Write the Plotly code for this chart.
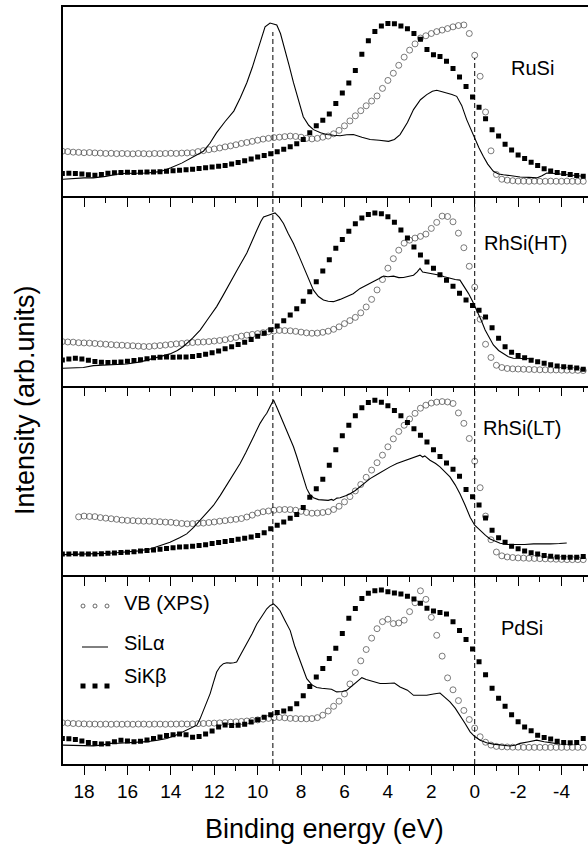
import numpy as np
import plotly.graph_objects as go

# ---------------- data ----------------
PANELS = ["RuSi", "RhSi(HT)", "RhSi(LT)", "PdSi"]
TICK_VALS = [18, 16, 14, 12, 10, 8, 6, 4, 2, 0, -2, -4]
TICK_TEXT = ["18", "16", "14", "12", "10", "8", "6", "4", "2", "0", "-2", "-4"]
MINOR_TICKS = [19, 17, 15, 13, 11, 9, 7, 5, 3, 1, -1, -3, -5]
REF_LINES = [9.3, 0.0]
X_RANGE = [18.97, -5.22]
LEGEND_NAMES = ["VB (XPS)", "SiL\u03b1", "SiK\u03b2"]

# VB (XPS) – open circles, energy grid start / step
VB_STEP = 0.25
VB_START = [19.0, 19.0, 18.25, 19.0]
VB_RUSI = [0.238, 0.236, 0.233, 0.232, 0.230, 0.231, 0.229, 0.228, 0.226,
           0.227, 0.225, 0.226, 0.225, 0.224, 0.226, 0.225, 0.224,
           0.226, 0.225, 0.226, 0.227, 0.226, 0.228, 0.229, 0.230,
           0.236, 0.241, 0.246, 0.250, 0.255, 0.261, 0.266, 0.272,
           0.279, 0.284, 0.290, 0.296, 0.302, 0.306, 0.310, 0.312,
           0.315, 0.318, 0.316, 0.312, 0.306, 0.303, 0.306, 0.312,
           0.318, 0.330, 0.348, 0.372, 0.398, 0.425, 0.452, 0.478,
           0.503, 0.530, 0.570, 0.612, 0.650, 0.692, 0.735, 0.772,
           0.805, 0.836, 0.848, 0.860, 0.870, 0.878, 0.886, 0.895,
           0.902, 0.905, 0.860, 0.745, 0.634, 0.445, 0.240, 0.115,
           0.090, 0.085, 0.082, 0.080, 0.080, 0.079, 0.080, 0.079,
           0.079, 0.080, 0.079, 0.079, 0.080, 0.079, 0.079, 0.079]
VB_RHSI_HT = [0.232, 0.230, 0.229, 0.226, 0.225, 0.224, 0.222, 0.220, 0.218,
              0.216, 0.214, 0.213, 0.211, 0.210, 0.208, 0.206, 0.206,
              0.209, 0.211, 0.214, 0.217, 0.220, 0.222, 0.225, 0.227,
              0.229, 0.230, 0.232, 0.235, 0.238, 0.242, 0.248, 0.254,
              0.261, 0.266, 0.270, 0.274, 0.279, 0.284, 0.288, 0.291,
              0.290, 0.289, 0.286, 0.282, 0.278, 0.276, 0.277, 0.281,
              0.287, 0.297, 0.310, 0.327, 0.343, 0.360, 0.384, 0.415,
              0.455, 0.505, 0.560, 0.620, 0.670, 0.715, 0.752, 0.768,
              0.779, 0.788, 0.800, 0.830, 0.862, 0.895, 0.893, 0.865,
              0.805, 0.728, 0.630, 0.520, 0.350, 0.218, 0.148, 0.107,
              0.095, 0.090, 0.088, 0.087, 0.086, 0.085, 0.084, 0.083,
              0.083, 0.082, 0.082, 0.081, 0.081, 0.080, 0.080, 0.079]
VB_RHSI_LT = [0.306, 0.310, 0.308, 0.307, 0.302, 0.299,
              0.296, 0.293, 0.289, 0.287, 0.286, 0.284, 0.283, 0.283,
              0.281, 0.280, 0.278, 0.277, 0.274, 0.271, 0.269, 0.270,
              0.272, 0.273, 0.276, 0.279, 0.283, 0.286, 0.290, 0.293,
              0.297, 0.305, 0.315, 0.326, 0.333, 0.337, 0.341, 0.344,
              0.345, 0.344, 0.341, 0.335, 0.329, 0.325, 0.326, 0.329,
              0.333, 0.345, 0.362, 0.385, 0.413, 0.443, 0.477, 0.515,
              0.553, 0.592, 0.632, 0.676, 0.718, 0.757, 0.790, 0.823,
              0.853, 0.880, 0.896, 0.907, 0.912, 0.915, 0.913, 0.905,
              0.855, 0.800, 0.720, 0.600, 0.460, 0.310, 0.185, 0.120,
              0.100, 0.094, 0.091, 0.089, 0.088, 0.087, 0.086, 0.085,
              0.084, 0.083, 0.082, 0.081, 0.080, 0.080, 0.080, 0.080]
VB_PDSI = [0.218, 0.216, 0.214, 0.213, 0.212, 0.211, 0.211, 0.210, 0.211,
           0.210, 0.211, 0.210, 0.211, 0.210, 0.211, 0.211, 0.210,
           0.211, 0.211, 0.210, 0.211, 0.211, 0.212, 0.211, 0.212,
           0.213, 0.214, 0.215, 0.216, 0.217, 0.219, 0.221, 0.223,
           0.225, 0.227, 0.230, 0.233, 0.237, 0.241, 0.245, 0.246,
           0.244, 0.241, 0.240, 0.239, 0.239, 0.240, 0.245, 0.258,
           0.280, 0.305, 0.332, 0.370, 0.423, 0.483, 0.545, 0.605,
           0.665, 0.715, 0.752, 0.765, 0.742, 0.745, 0.760, 0.805,
           0.852, 0.915, 0.870, 0.775, 0.680, 0.570, 0.455, 0.392,
           0.335, 0.283, 0.235, 0.190, 0.144, 0.115, 0.100, 0.093,
           0.091, 0.090, 0.089, 0.089, 0.088, 0.088, 0.088, 0.088,
           0.088, 0.088, 0.088, 0.088, 0.088, 0.088, 0.088, 0.088]

# SiKβ – filled squares, energy grid start / step
KB_STEP = 0.3
KB_START = 19.0
KB_RUSI = [0.120, 0.121, 0.120, 0.117, 0.113, 0.111, 0.115, 0.121, 0.124,
           0.125, 0.127, 0.126, 0.127, 0.128, 0.128, 0.130, 0.132,
           0.135, 0.138, 0.140, 0.143, 0.147, 0.150, 0.154, 0.158,
           0.163, 0.170, 0.178, 0.187, 0.197, 0.207, 0.215, 0.224,
           0.235, 0.248, 0.262, 0.278, 0.300, 0.335, 0.372, 0.402,
           0.435, 0.490, 0.545, 0.598, 0.665, 0.750, 0.822, 0.870,
           0.900, 0.913, 0.912, 0.900, 0.885, 0.860, 0.830, 0.775,
           0.748, 0.738, 0.713, 0.675, 0.630, 0.580, 0.525, 0.470,
           0.410, 0.352, 0.318, 0.275, 0.245, 0.218, 0.200, 0.180,
           0.163, 0.145, 0.133, 0.125, 0.120, 0.115, 0.109, 0.106]
KB_RHSI_HT = [0.135, 0.140, 0.144, 0.140, 0.133, 0.127, 0.123, 0.122, 0.123,
              0.124, 0.128, 0.132, 0.136, 0.141, 0.146, 0.149, 0.150,
              0.149, 0.150, 0.151, 0.153, 0.158, 0.165, 0.173, 0.182,
              0.194, 0.205, 0.216, 0.229, 0.243, 0.260, 0.276, 0.294,
              0.315, 0.342, 0.372, 0.405, 0.445, 0.495, 0.548, 0.605,
              0.665, 0.725, 0.772, 0.815, 0.855, 0.885, 0.903, 0.912,
              0.908, 0.892, 0.862, 0.822, 0.780, 0.732, 0.690, 0.652,
              0.619, 0.585, 0.556, 0.525, 0.488, 0.452, 0.423, 0.398,
              0.362, 0.305, 0.250, 0.205, 0.176, 0.158, 0.146, 0.134,
              0.125, 0.117, 0.109, 0.103, 0.099, 0.097, 0.092, 0.086]
KB_RHSI_LT = [0.110, 0.109, 0.111, 0.110, 0.109, 0.110, 0.111, 0.113, 0.115,
              0.117, 0.119, 0.122, 0.125, 0.128, 0.131, 0.135, 0.139,
              0.143, 0.146, 0.148, 0.151, 0.154, 0.159, 0.165, 0.171,
              0.176, 0.181, 0.187, 0.193, 0.200, 0.208, 0.222, 0.243,
              0.262, 0.279, 0.298, 0.318, 0.356, 0.410, 0.455, 0.505,
              0.578, 0.660, 0.735, 0.790, 0.840, 0.882, 0.910, 0.922,
              0.912, 0.893, 0.868, 0.840, 0.805, 0.772, 0.737, 0.702,
              0.660, 0.625, 0.590, 0.558, 0.520, 0.450, 0.412, 0.368,
              0.300, 0.235, 0.195, 0.172, 0.150, 0.137, 0.125, 0.116,
              0.109, 0.102, 0.098, 0.094, 0.092, 0.092, 0.093, 0.096]
KB_PDSI = [0.135, 0.133, 0.130, 0.122, 0.114, 0.108, 0.106, 0.107, 0.118,
           0.125, 0.122, 0.118, 0.120, 0.127, 0.135, 0.143, 0.150,
           0.154, 0.158, 0.155, 0.142, 0.145, 0.158, 0.175, 0.195,
           0.206, 0.204, 0.205, 0.210, 0.222, 0.234, 0.247, 0.260,
           0.272, 0.280, 0.292, 0.318, 0.360, 0.410, 0.460, 0.505,
           0.558, 0.612, 0.690, 0.770, 0.822, 0.875, 0.902, 0.916,
           0.920, 0.910, 0.903, 0.898, 0.887, 0.872, 0.850, 0.823,
           0.808, 0.800, 0.793, 0.752, 0.705, 0.658, 0.608, 0.540,
           0.472, 0.400, 0.348, 0.305, 0.260, 0.223, 0.196, 0.176,
           0.152, 0.140, 0.132, 0.120, 0.114, 0.112, 0.113, 0.135]

# SiLα – solid line, (energy, intensity) pairs
LA_RUSI = [(19.0, 0.090), (18.5, 0.094), (18.0, 0.097), (17.57, 0.097), (17.0, 0.105),
           (16.3, 0.120), (15.8, 0.122), (15.1, 0.123), (14.5, 0.130), (14.0, 0.150),
           (13.5, 0.175), (13.0, 0.205), (12.5, 0.238), (12.2, 0.280), (11.9, 0.335),
           (11.5, 0.395), (11.1, 0.450), (10.8, 0.520), (10.5, 0.600), (10.25, 0.680),
           (10.04, 0.757), (9.85, 0.830), (9.66, 0.895), (9.43, 0.915), (9.12, 0.905),
           (8.95, 0.860), (8.74, 0.775), (8.55, 0.690), (8.35, 0.600), (8.1, 0.500),
           (7.9, 0.420), (7.65, 0.375), (7.43, 0.352), (7.1, 0.335), (6.82, 0.326),
           (6.5, 0.322), (6.2, 0.320), (5.9, 0.325), (5.59, 0.326), (5.2, 0.312),
           (4.82, 0.300), (4.4, 0.296), (3.97, 0.290), (3.7, 0.300), (3.44, 0.326),
           (3.1, 0.390), (2.82, 0.458), (2.5, 0.510), (2.21, 0.537), (1.95, 0.555),
           (1.75, 0.560), (1.5, 0.552), (1.29, 0.546), (1.05, 0.538), (0.83, 0.528),
           (0.6, 0.480), (0.37, 0.405), (0.15, 0.345), (-0.02, 0.300), (-0.2, 0.255),
           (-0.4, 0.210), (-0.6, 0.170), (-0.86, 0.132), (-1.1, 0.118), (-1.32, 0.114),
           (-1.7, 0.108), (-2.09, 0.102), (-2.5, 0.100), (-2.86, 0.097), (-3.1, 0.108),
           (-3.32, 0.123), (-3.7, 0.120), (-4.24, 0.114), (-4.6, 0.110), (-4.98, 0.106)]
LA_RHSI_HT = [(19.0, 0.091), (18.5, 0.093), (18.03, 0.095), (17.57, 0.105), (17.0, 0.108),
              (16.5, 0.110), (16.03, 0.114), (15.4, 0.125), (14.8, 0.144), (14.4, 0.155),
              (14.04, 0.167), (13.7, 0.185), (13.42, 0.206), (13.0, 0.250), (12.65, 0.293),
              (12.3, 0.350), (11.89, 0.417), (11.6, 0.475), (11.27, 0.540), (10.9, 0.620),
              (10.5, 0.700), (10.25, 0.770), (10.04, 0.820), (9.85, 0.868), (9.73, 0.890),
              (9.5, 0.900), (9.35, 0.905), (9.2, 0.912), (9.0, 0.888), (8.81, 0.856),
              (8.6, 0.805), (8.35, 0.750), (8.1, 0.685), (7.89, 0.627), (7.65, 0.560),
              (7.43, 0.504), (7.2, 0.470), (6.97, 0.452), (6.75, 0.445), (6.51, 0.443),
              (6.2, 0.455), (5.89, 0.469), (5.6, 0.485), (5.28, 0.513), (4.97, 0.530),
              (4.67, 0.548), (4.4, 0.565), (4.2, 0.578), (4.0, 0.575), (3.74, 0.578),
              (3.5, 0.570), (3.28, 0.571), (3.05, 0.575), (2.82, 0.583), (2.65, 0.600),
              (2.52, 0.619), (2.4, 0.600), (2.21, 0.596), (1.9, 0.590), (1.6, 0.583),
              (1.4, 0.575), (1.14, 0.566), (0.9, 0.560), (0.68, 0.557), (0.5, 0.525),
              (0.29, 0.487), (0.1, 0.445), (-0.09, 0.400), (-0.3, 0.345), (-0.48, 0.293),
              (-0.7, 0.250), (-0.86, 0.214), (-1.1, 0.185), (-1.32, 0.167), (-1.55, 0.152),
              (-1.78, 0.144), (-2.2, 0.143), (-2.71, 0.141)]
LA_RHSI_LT = [(19.0, 0.106), (18.5, 0.107), (18.0, 0.109), (17.57, 0.110), (17.0, 0.113),
              (16.5, 0.116), (16.03, 0.119), (15.5, 0.126), (14.96, 0.136), (14.5, 0.152),
              (14.04, 0.172), (13.6, 0.195), (13.27, 0.216), (12.95, 0.250), (12.65, 0.287),
              (12.35, 0.325), (12.04, 0.366), (11.73, 0.418), (11.43, 0.473), (11.1, 0.530),
              (10.81, 0.588), (10.55, 0.645), (10.35, 0.694), (10.1, 0.750), (9.89, 0.800),
              (9.7, 0.835), (9.58, 0.853), (9.42, 0.890), (9.27, 0.924), (9.12, 0.885),
              (8.97, 0.844), (8.8, 0.800), (8.66, 0.765), (8.5, 0.720), (8.35, 0.676),
              (8.2, 0.625), (8.05, 0.570), (7.9, 0.510), (7.74, 0.455), (7.6, 0.425),
              (7.43, 0.407), (7.2, 0.397), (6.97, 0.393), (6.75, 0.393), (6.6, 0.398),
              (6.51, 0.393), (6.35, 0.405), (6.2, 0.407), (5.95, 0.418), (5.74, 0.428),
              (5.5, 0.445), (5.28, 0.464), (5.05, 0.487), (4.82, 0.508), (4.5, 0.530),
              (4.2, 0.552), (3.9, 0.570), (3.59, 0.588), (3.3, 0.600), (2.97, 0.614),
              (2.75, 0.622), (2.6, 0.628), (2.52, 0.632), (2.4, 0.622), (2.3, 0.628),
              (2.06, 0.605), (1.8, 0.588), (1.6, 0.570), (1.4, 0.548), (1.14, 0.517),
              (0.9, 0.475), (0.68, 0.428), (0.45, 0.370), (0.21, 0.304), (0.0, 0.262),
              (-0.25, 0.234), (-0.5, 0.208), (-0.71, 0.189), (-0.95, 0.175), (-1.17, 0.166),
              (-1.5, 0.160), (-1.94, 0.158), (-2.3, 0.160), (-2.71, 0.163), (-3.1, 0.162),
              (-3.48, 0.163), (-3.9, 0.165), (-4.24, 0.168)]
LA_PDSI = [(19.0, 0.100), (18.5, 0.099), (18.0, 0.097), (17.57, 0.096), (17.2, 0.100),
           (16.8, 0.109), (16.4, 0.110), (16.03, 0.112), (15.6, 0.114), (15.1, 0.118),
           (14.6, 0.126), (14.19, 0.135), (13.8, 0.150), (13.42, 0.170), (13.1, 0.188),
           (12.8, 0.205), (12.65, 0.240), (12.5, 0.284), (12.35, 0.330), (12.19, 0.372),
           (12.04, 0.430), (11.89, 0.486), (11.73, 0.515), (11.58, 0.530), (11.42, 0.535),
           (11.27, 0.533), (11.1, 0.535), (10.97, 0.539), (10.75, 0.585), (10.5, 0.635),
           (10.25, 0.690), (10.04, 0.740), (9.8, 0.785), (9.58, 0.820), (9.42, 0.838),
           (9.27, 0.846), (9.12, 0.830), (8.97, 0.810), (8.75, 0.760), (8.5, 0.705),
           (8.3, 0.625), (8.05, 0.547), (7.9, 0.495), (7.74, 0.451), (7.5, 0.418),
           (7.28, 0.404), (7.05, 0.400), (6.82, 0.398), (6.6, 0.395), (6.36, 0.381),
           (6.1, 0.383), (5.89, 0.390), (5.75, 0.403), (5.59, 0.416), (5.4, 0.437),
           (5.2, 0.456), (5.0, 0.446), (4.82, 0.439), (4.6, 0.432), (4.36, 0.425),
           (4.1, 0.425), (3.9, 0.425), (3.7, 0.428), (3.44, 0.407), (3.1, 0.390),
           (2.82, 0.363), (2.5, 0.365), (2.21, 0.363), (1.9, 0.370), (1.6, 0.375),
           (1.4, 0.355), (1.14, 0.328), (0.9, 0.295), (0.68, 0.258), (0.45, 0.215),
           (0.21, 0.170), (0.0, 0.145), (-0.25, 0.126), (-0.55, 0.112), (-0.86, 0.105),
           (-1.2, 0.100), (-1.63, 0.095), (-1.9, 0.100), (-2.09, 0.109), (-2.5, 0.118),
           (-2.86, 0.126), (-3.2, 0.118), (-3.48, 0.112), (-3.94, 0.105)]

VB = [VB_RUSI, VB_RHSI_HT, VB_RHSI_LT, VB_PDSI]
KB = [KB_RUSI, KB_RHSI_HT, KB_RHSI_LT, KB_PDSI]
LA = [LA_RUSI, LA_RHSI_HT, LA_RHSI_LT, LA_PDSI]

# ---------------- figure ----------------
W, H = 588, 845
ML, MR, MT, MB = 63, 0, 7, 81
PW, PH = W - ML - MR, H - MT - MB
FONT = "Liberation Sans, Arial, Helvetica, sans-serif"


def px_x(x):
    return (x - ML) / PW


def px_y(y):
    return (H - MB - y) / PH


fig = go.Figure()
n = len(PANELS)
layout_axes = {}
for i, name in enumerate(PANELS):
    sfx = "" if i == 0 else str(i + 1)
    xa, ya = "x" + sfx, "y" + sfx
    vb_x = VB_START[i] - VB_STEP * np.arange(len(VB[i]))
    kb_x = KB_START - KB_STEP * np.arange(len(KB[i]))
    la_x = [p[0] for p in LA[i]]
    la_y = [p[1] for p in LA[i]]
    fig.add_trace(go.Scatter(x=vb_x, y=VB[i], mode="markers", xaxis=xa, yaxis=ya,
                             marker=dict(symbol="circle-open", size=6, color="#444444",
                                         line=dict(width=0.7)),
                             showlegend=False, name=LEGEND_NAMES[0]))
    fig.add_trace(go.Scatter(x=la_x, y=la_y, mode="lines", xaxis=xa, yaxis=ya,
                             line=dict(color="black", width=1.1),
                             showlegend=False, name=LEGEND_NAMES[1]))
    fig.add_trace(go.Scatter(x=kb_x, y=KB[i], mode="markers", xaxis=xa, yaxis=ya,
                             marker=dict(symbol="square", size=5, color="black"),
                             showlegend=False, name=LEGEND_NAMES[2]))
    top = 1 - i / n
    bot = 1 - (i + 1) / n
    layout_axes["xaxis" + sfx] = dict(
        domain=[0, 1], anchor=ya, range=X_RANGE, showgrid=False, zeroline=False,
        showline=True, linecolor="black", linewidth=1.5, mirror=(i == 0),
        ticks="outside", tickmode="array", tickvals=TICK_VALS, ticktext=TICK_TEXT,
        ticklen=9, tickwidth=1.3, tickcolor="black",
        showticklabels=(i == n - 1),
        tickfont=dict(family=FONT, size=19, color="black"),
        minor=dict(tickmode="array", tickvals=MINOR_TICKS, ticks="outside",
                   ticklen=5, tickwidth=1.3, tickcolor="black", showgrid=False),
    )
    layout_axes["yaxis" + sfx] = dict(
        domain=[bot, top], anchor=xa, range=[0, 1], showgrid=False, zeroline=False,
        showline=True, linecolor="black", linewidth=1.5, ticks="",
        showticklabels=False, fixedrange=True,
    )

shapes = []
ref_tops = [px_y(32), px_y(58)]
for v, yt in zip(REF_LINES, ref_tops):
    shapes.append(dict(type="line", xref="x", yref="paper", x0=v, x1=v, y0=0, y1=yt,
                       line=dict(color="black", width=1, dash="5px,3px")))

# legend glyphs (drawn manually: three symbols per entry, as in the original)
leg_xs = [83, 95, 107]
for gx in leg_xs:
    shapes.append(dict(type="circle", xref="paper", yref="paper",
                       xsizemode="pixel", ysizemode="pixel",
                       xanchor=px_x(gx), yanchor=px_y(606),
                       x0=-2, x1=2, y0=-2, y1=2,
                       line=dict(color="#444444", width=0.8), fillcolor="white"))
    shapes.append(dict(type="rect", xref="paper", yref="paper",
                       xsizemode="pixel", ysizemode="pixel",
                       xanchor=px_x(gx), yanchor=px_y(686),
                       x0=-2.5, x1=2.5, y0=-2.5, y1=2.5,
                       line=dict(color="black", width=0), fillcolor="black"))
shapes.append(dict(type="line", xref="paper", yref="paper",
                   x0=px_x(82), x1=px_x(108), y0=px_y(647), y1=px_y(647),
                   line=dict(color="black", width=1)))

annotations = []
label_pos = [(532, 68), (525, 243), (522, 428), (522, 628)]
for name, (lx, ly) in zip(PANELS, label_pos):
    annotations.append(dict(text=name, xref="paper", yref="paper", x=px_x(lx), y=px_y(ly),
                            xanchor="center", yanchor="middle", showarrow=False,
                            font=dict(family=FONT, size=20, color="black")))
for name, ly in zip(LEGEND_NAMES, [603, 643, 676]):
    annotations.append(dict(text=name, xref="paper", yref="paper", x=px_x(122), y=px_y(ly),
                            xanchor="left", yanchor="middle", showarrow=False,
                            font=dict(family=FONT, size=20, color="black")))
annotations.append(dict(text="Binding energy (eV)", xref="paper", yref="paper",
                        x=px_x(324), y=px_y(829), xanchor="center", yanchor="middle",
                        showarrow=False, font=dict(family=FONT, size=27, color="black")))
annotations.append(dict(text="Intensity (arb.units)", xref="paper", yref="paper",
                        x=px_x(25), y=px_y(400), xanchor="center", yanchor="middle",
                        textangle=-90, showarrow=False,
                        font=dict(family=FONT, size=27, color="black")))

fig.update_layout(
    width=W, height=H,
    margin=dict(l=ML, r=MR, t=MT, b=MB, pad=0),
    paper_bgcolor="white", plot_bgcolor="white",
    showlegend=False,
    shapes=shapes, annotations=annotations,
    **layout_axes,
)

fig.write_html("out.html")
